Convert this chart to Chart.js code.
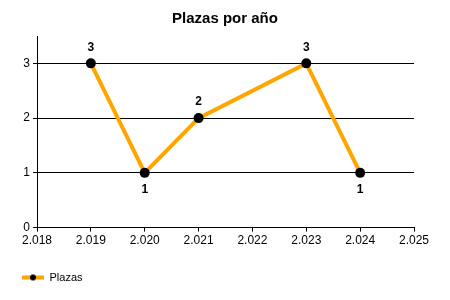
<!DOCTYPE html>
<html>
<head>
<meta charset="utf-8">
<script src="https://cdn.jsdelivr.net/npm/chart.js@4"></script>
<style>
  html, body { margin: 0; padding: 0; background: #fff; }
  #wrap { width: 450px; height: 300px; }
</style>
</head>
<body>
<div id="wrap"><canvas id="plazas" width="450" height="300"></canvas></div>
<script>
/* Data */
const years = [2019, 2020, 2021, 2022, 2023, 2024];
const plazas = [3, 1, 2, null, 3, 1];
const seriesName = 'Plazas';
const chartTitle = 'Plazas por año';

const points = years.map(function (y, i) { return { x: y, y: plazas[i] }; })
                    .filter(function (p) { return p.y !== null; });

/* legend marker: line with a dot */
const marker = document.createElement('canvas');
marker.width = 22; marker.height = 10;
const mctx = marker.getContext('2d');
mctx.strokeStyle = '#FFA500';
mctx.lineWidth = 4;
mctx.beginPath(); mctx.moveTo(0, 5); mctx.lineTo(22, 5); mctx.stroke();
mctx.fillStyle = '#000';
mctx.beginPath(); mctx.arc(11, 5, 3, 0, Math.PI * 2); mctx.fill();

/* value labels, above the point or below it for local minimums */
const valueLabels = {
  id: 'valueLabels',
  afterDatasetsDraw(chart) {
    const ctx = chart.ctx;
    const meta = chart.getDatasetMeta(0);
    const vals = chart.data.datasets[0].data.map(function (d) { return d.y; });
    ctx.save();
    ctx.font = 'bold 12px "Liberation Sans", Arial, sans-serif';
    ctx.fillStyle = '#000';
    ctx.textAlign = 'center';
    ctx.textBaseline = 'middle';
    meta.data.forEach(function (pt, i) {
      const prev = i > 0 ? vals[i - 1] : Infinity;
      const next = i < vals.length - 1 ? vals[i + 1] : Infinity;
      const below = vals[i] < prev && vals[i] < next;
      ctx.fillText(String(vals[i]), pt.x, below ? pt.y + 17 : pt.y - 16);
    });
    ctx.restore();
  }
};

Chart.defaults.font.family = '"Liberation Sans", Arial, sans-serif';
Chart.defaults.font.size = 12;
Chart.defaults.color = '#000';

new Chart(document.getElementById('plazas'), {
  type: 'line',
  data: {
    datasets: [{
      label: seriesName,
      data: points,
      borderColor: '#FFA500',
      backgroundColor: '#000',
      borderWidth: 4,
      pointRadius: 5,
      pointBackgroundColor: '#000',
      pointBorderColor: '#000',
      pointBorderWidth: 0,
      tension: 0
    }]
  },
  plugins: [valueLabels],
  options: {
    responsive: false,
    animation: false,
    layout: { padding: { left: 0, right: 0, top: 0, bottom: 7 } },
    scales: {
      x: {
        type: 'linear',
        min: 2018,
        max: 2025,
        border: { color: '#000', width: 1 },
        grid: { drawOnChartArea: false, tickColor: '#000', tickLength: 4 },
        ticks: {
          stepSize: 1,
          padding: 2,
          maxRotation: 0,
          callback: function (v) { return (v / 1000).toFixed(3); }
        },
        // keep the plot right edge at ~414px, the title stays centred on the canvas
        afterFit: function (scale) { scale.paddingRight = 36; }
      },
      y: {
        min: 0,
        max: 3.5,
        border: { color: '#000', width: 1 },
        grid: { color: '#000', tickColor: '#000', tickLength: 4 },
        ticks: { stepSize: 1, includeBounds: false, padding: 3 },
        afterFit: function (scale) { scale.width = 37; }
      }
    },
    plugins: {
      title: {
        display: true,
        text: chartTitle,
        color: '#000',
        font: { size: 15, weight: 'bold' },
        padding: { top: 10, bottom: 8 }
      },
      legend: {
        position: 'bottom',
        align: 'start',
        labels: {
          usePointStyle: true,
          pointStyle: marker,
          pointStyleWidth: 22,
          padding: 22,
          color: '#000',
          font: { size: 11 }
        }
      },
      tooltip: { enabled: false }
    }
  }
});
</script>
</body>
</html>
